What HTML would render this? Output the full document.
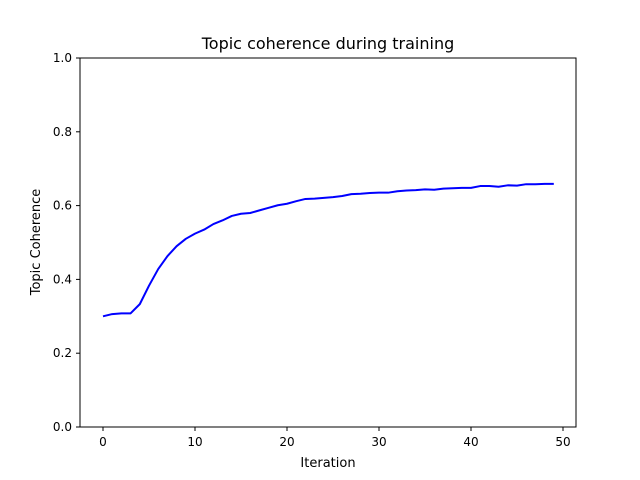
<!DOCTYPE html>
<html><head><meta charset="utf-8"><style>body{margin:0;background:#fff}svg{display:block;font-family:"DejaVu Sans","Liberation Sans",sans-serif}</style></head>
<body>
<svg id="chart" width="640" height="480">
<rect width="640" height="480" fill="#fff"/>
<text x="328" y="49" text-anchor="middle" font-size="16">Topic coherence during training</text>
<g id="plot"></g>
<rect x="80" y="58" width="496" height="369" fill="none" stroke="#000" stroke-width="1"/>
<text x="328" y="467" text-anchor="middle" font-size="13">Iteration</text>
<text x="0" y="0" transform="translate(40,242) rotate(-90)" text-anchor="middle" font-size="13">Topic Coherence</text>
</svg>
<script>
const iterations = Array.from({length:50},(_,i)=>i);
const coherence = [0.300,0.306,0.308,0.308,0.333,0.383,0.428,0.463,0.490,0.510,0.524,0.535,0.550,0.560,0.572,0.578,0.580,0.587,0.594,0.601,0.605,0.612,0.618,0.619,0.621,0.623,0.626,0.631,0.632,0.634,0.635,0.635,0.639,0.641,0.642,0.644,0.643,0.646,0.647,0.648,0.648,0.653,0.653,0.651,0.655,0.654,0.658,0.658,0.659,0.659];
const xTicks = [0,10,20,30,40,50];
const yTicks = [0.0,0.2,0.4,0.6,0.8,1.0];
const yTickLabels = ["0.0","0.2","0.4","0.6","0.8","1.0"];
const X = v => 103 + v*9.2;
const Y = v => 427 - v*369;
const NS="http://www.w3.org/2000/svg";
const g=document.getElementById('plot');
function mk(t,a){const e=document.createElementNS(NS,t);for(const k in a)e.setAttribute(k,a[k]);g.appendChild(e);return e;}
xTicks.forEach(t=>{
  const l=mk('line',{x1:X(t),x2:X(t),y1:427,y2:431,stroke:'#000'});
  
  
  const s=mk('text',{x:X(t),y:446,'text-anchor':'middle','font-size':'12'});
  s.textContent=t;
  
  
});
yTicks.forEach((t,i)=>{
  const l=mk('line',{x1:76,x2:80,y1:Y(t),y2:Y(t),stroke:'#000'});
  
  
  const s=mk('text',{x:72,y:Y(t)+4,'text-anchor':'end','font-size':'12'});
  s.textContent=yTickLabels[i];
  
  
});
const p=mk('polyline',{points:iterations.map((x,i)=>X(x)+','+Y(coherence[i])).join(' '),fill:'none',stroke:'#0000ff','stroke-width':'2','stroke-linejoin':'round'});


</script>
</body></html>
